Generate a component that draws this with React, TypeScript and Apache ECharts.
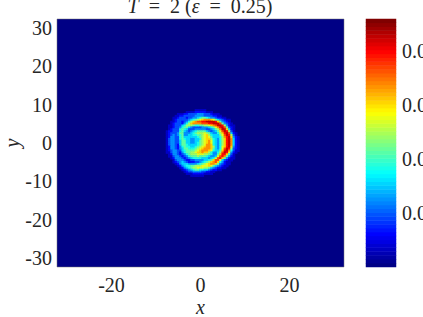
import React, { useEffect, useRef } from "react";
import * as echarts from "echarts";

const FONT = "'Liberation Serif', serif";
const TEXT_COLOR = "#262626";
const X_TICKS = [-20, 0, 20];
const Y_TICKS = [-30, -20, -10, 0, 10, 20, 30];
const COLORBAR_MAX = 0.092;
const COLORBAR_TICKS = ["0.02", "0.04", "0.06", "0.08"];
const COLORBAR_LEVELS = [
  0, 1, 2, 3, 4, 5, 6, 7, 8, 9, 10, 11, 12, 13, 14, 15, 16, 17, 18, 19, 20, 21, 22, 23, 24, 25, 26, 27, 28, 29, 30, 31,
  32, 33, 34, 35, 36, 37, 38, 39, 40, 41, 42, 43, 44, 45, 46, 47, 48, 49, 50, 51, 52, 53, 54, 55, 56, 57, 58, 59, 60, 61, 62, 63,
];
const JET = ["#000085", "#0000ff", "#0080ff", "#00ffff", "#80ff80", "#ffff00", "#ff8000", "#ff0000", "#800000"];

// Field: hex level 0-f per cell, 0.5 units per cell.
const FIELD_X0 = -8.5;
const FIELD_Y0 = 8.5;
const FIELD_STEP = 0.5;
const FIELD_ROWS = [
  "00000 00000 00000 11111 00000 00000 00000",
  "00000 00000 01111 22222 11100 00000 00000",
  "00000 00111 22333 34443 33211 10000 00000",
  "00000 01122 33333 44443 33322 11000 00000",
  "00000 11233 32334 45677 65443 22110 00000",
  "00000 12333 33456 789ab bba97 54321 10000",
  "00001 12332 3468a bccdd eeeed a7432 10000",
  "00001 23332 468ab bbbcc cddee ec743 21000",
  "00011 23335 68887 66778 89abc eed84 21100",
  "00011 23346 77543 33344 45679 bdec7 32100",
  "00012 33367 65333 44444 33457 8beea 52100",
  "00122 33367 54345 67777 54345 79ced 83100",
  "00123 33477 44456 78889 87544 68ade c5210",
  "00123 43467 44556 67789 a8655 579ce d8310",
  "00124 43367 55555 56789 a9755 568bd ea421",
  "00134 43367 65544 55689 aa865 468ad eb521",
  "00134 43357 75544 55789 ab965 468ad eb521",
  "00134 43357 75544 56789 ab965 468ad eb521",
  "00134 43257 76555 56789 bba65 468ad eb521",
  "00124 43246 76655 6789a bba85 469ad ea421",
  "00124 43245 77666 789ab bba75 469ce d8321",
  "00123 44335 67777 89abb ba965 57ade b6311",
  "00113 44324 67788 9aaba a8644 68ced 94210",
  "00012 44323 46788 89998 87644 7adda 63100",
  "00011 34432 34677 78777 65445 9cdb7 42100",
  "00001 24443 23456 66655 54569 cda74 21100",
  "00000 13444 32233 44445 567ac c9532 11000",
  "00000 12345 43222 33456 78abc a6421 10000",
  "00000 01245 55444 45678 9abba 74321 10000",
  "00000 00124 56677 88899 9a975 43211 00000",
  "00000 00012 45678 89998 87543 22110 00000",
  "00000 00001 23456 77665 54322 11000 00000",
  "00000 00000 12334 44433 22110 00000 00000",
  "00000 00000 01112 22221 11100 00000 00000",
  "00000 00000 00011 11110 00000 00000 00000",
];

const AXIS_MIN = -32;
const AXIS_MAX = 32;

function buildCategories(): string[] {
  const out: string[] = [];
  for (let v = AXIS_MIN; v <= AXIS_MAX; v += FIELD_STEP) out.push(String(v));
  return out;
}

function buildCells(): number[][] {
  const cells: number[][] = [];
  FIELD_ROWS.forEach((row, r) => {
    row.replace(/ /g, "").split("").forEach((ch, c) => {
      const level = parseInt(ch, 16);
      if (level === 0) return;
      const xi = (FIELD_X0 + c * FIELD_STEP - AXIS_MIN) / FIELD_STEP;
      const yi = (FIELD_Y0 - r * FIELD_STEP - AXIS_MIN) / FIELD_STEP;
      cells.push([xi, yi, (level / 15) * COLORBAR_MAX]);
    });
  });
  return cells;
}

export default function App() {
  const ref = useRef<HTMLDivElement>(null);
  useEffect(() => {
    document.body.style.margin = "0";
    const chart = echarts.init(ref.current!, undefined, { renderer: "svg" });
    const cats = buildCategories();
    const labelBase = { fontFamily: FONT, fontSize: 20, color: TEXT_COLOR };
    const top = COLORBAR_LEVELS.length - 1;
    chart.setOption({
      animation: false,
      backgroundColor: "#fff",
      title: {
        text: "{i|T}\u00a0 = \u00a02 ({i|ε}\u00a0 = \u00a00.25)",
        left: 195,
        top: -9,
        textAlign: "center",
        textStyle: {
          ...labelBase,
          fontWeight: "normal",
          rich: {
            i: { fontFamily: FONT, fontSize: 20, fontStyle: "italic", color: TEXT_COLOR },
          },
        },
      },
      grid: [
        { left: 57, top: 19, width: 287, height: 248, show: true, backgroundColor: JET[0], borderColor: "#777", borderWidth: 0.5, outerBoundsMode: "none" },
        { left: 366, top: 19, width: 30, height: 248, show: false, outerBoundsMode: "none" },
      ],
      xAxis: [
        {
          type: "category",
          gridIndex: 0,
          data: cats,
          name: "x",
          nameLocation: "middle",
          nameGap: 30,
          nameMoveOverlap: false,
          nameTextStyle: { ...labelBase, fontStyle: "italic" },
          axisLine: { show: false },
          axisTick: { show: false },
          axisLabel: {
            ...labelBase,
            margin: 8,
            interval: (_i: number, v: string) => X_TICKS.includes(Number(v)),
          },
        },
        { type: "category", gridIndex: 1, show: false, data: ["bar"] },
      ],
      yAxis: [
        {
          type: "category",
          gridIndex: 0,
          data: cats,
          name: "y",
          nameLocation: "middle",
          nameGap: 35,
          nameMoveOverlap: false,
          nameTextStyle: { ...labelBase, fontStyle: "italic" },
          axisLine: { show: false },
          axisTick: { show: false },
          axisLabel: {
            ...labelBase,
            margin: 5,
            interval: (_i: number, v: string) => Y_TICKS.includes(Number(v)),
          },
        },
        { type: "category", gridIndex: 1, show: false, data: COLORBAR_LEVELS.map(String) },
        {
          type: "value",
          gridIndex: 1,
          position: "right",
          min: 0,
          max: COLORBAR_MAX,
          interval: 0.02,
          splitLine: { show: false },
          axisLine: { show: false },
          axisTick: { show: true, inside: true, length: 3, lineStyle: { color: "#555", width: 0.5 } },
          axisLabel: {
            ...labelBase,
            margin: 6,
            showMaxLabel: false,
            showMinLabel: false,
            formatter: (v: number) => COLORBAR_TICKS.find((t) => Math.abs(Number(t) - v) < 1e-6) ?? "",
          },
        },
      ],
      visualMap: {
        type: "continuous",
        show: false,
        seriesIndex: [0, 1],
        min: 0,
        max: COLORBAR_MAX,
        inRange: { color: JET },
      },
      series: [
        {
          type: "heatmap",
          xAxisIndex: 0,
          yAxisIndex: 0,
          data: buildCells(),
          itemStyle: { borderWidth: 0 },
          emphasis: { disabled: true },
        },
        {
          type: "heatmap",
          xAxisIndex: 1,
          yAxisIndex: 1,
          data: COLORBAR_LEVELS.map((l, i) => [0, i, (l / top) * COLORBAR_MAX]),
          itemStyle: { borderWidth: 0 },
          emphasis: { disabled: true },
        },
      ],
    });
    return () => chart.dispose();
  }, []);
  return <div ref={ref} style={{ width: 423, height: 317, position: "fixed", left: 0, top: 0 }} />;
}
